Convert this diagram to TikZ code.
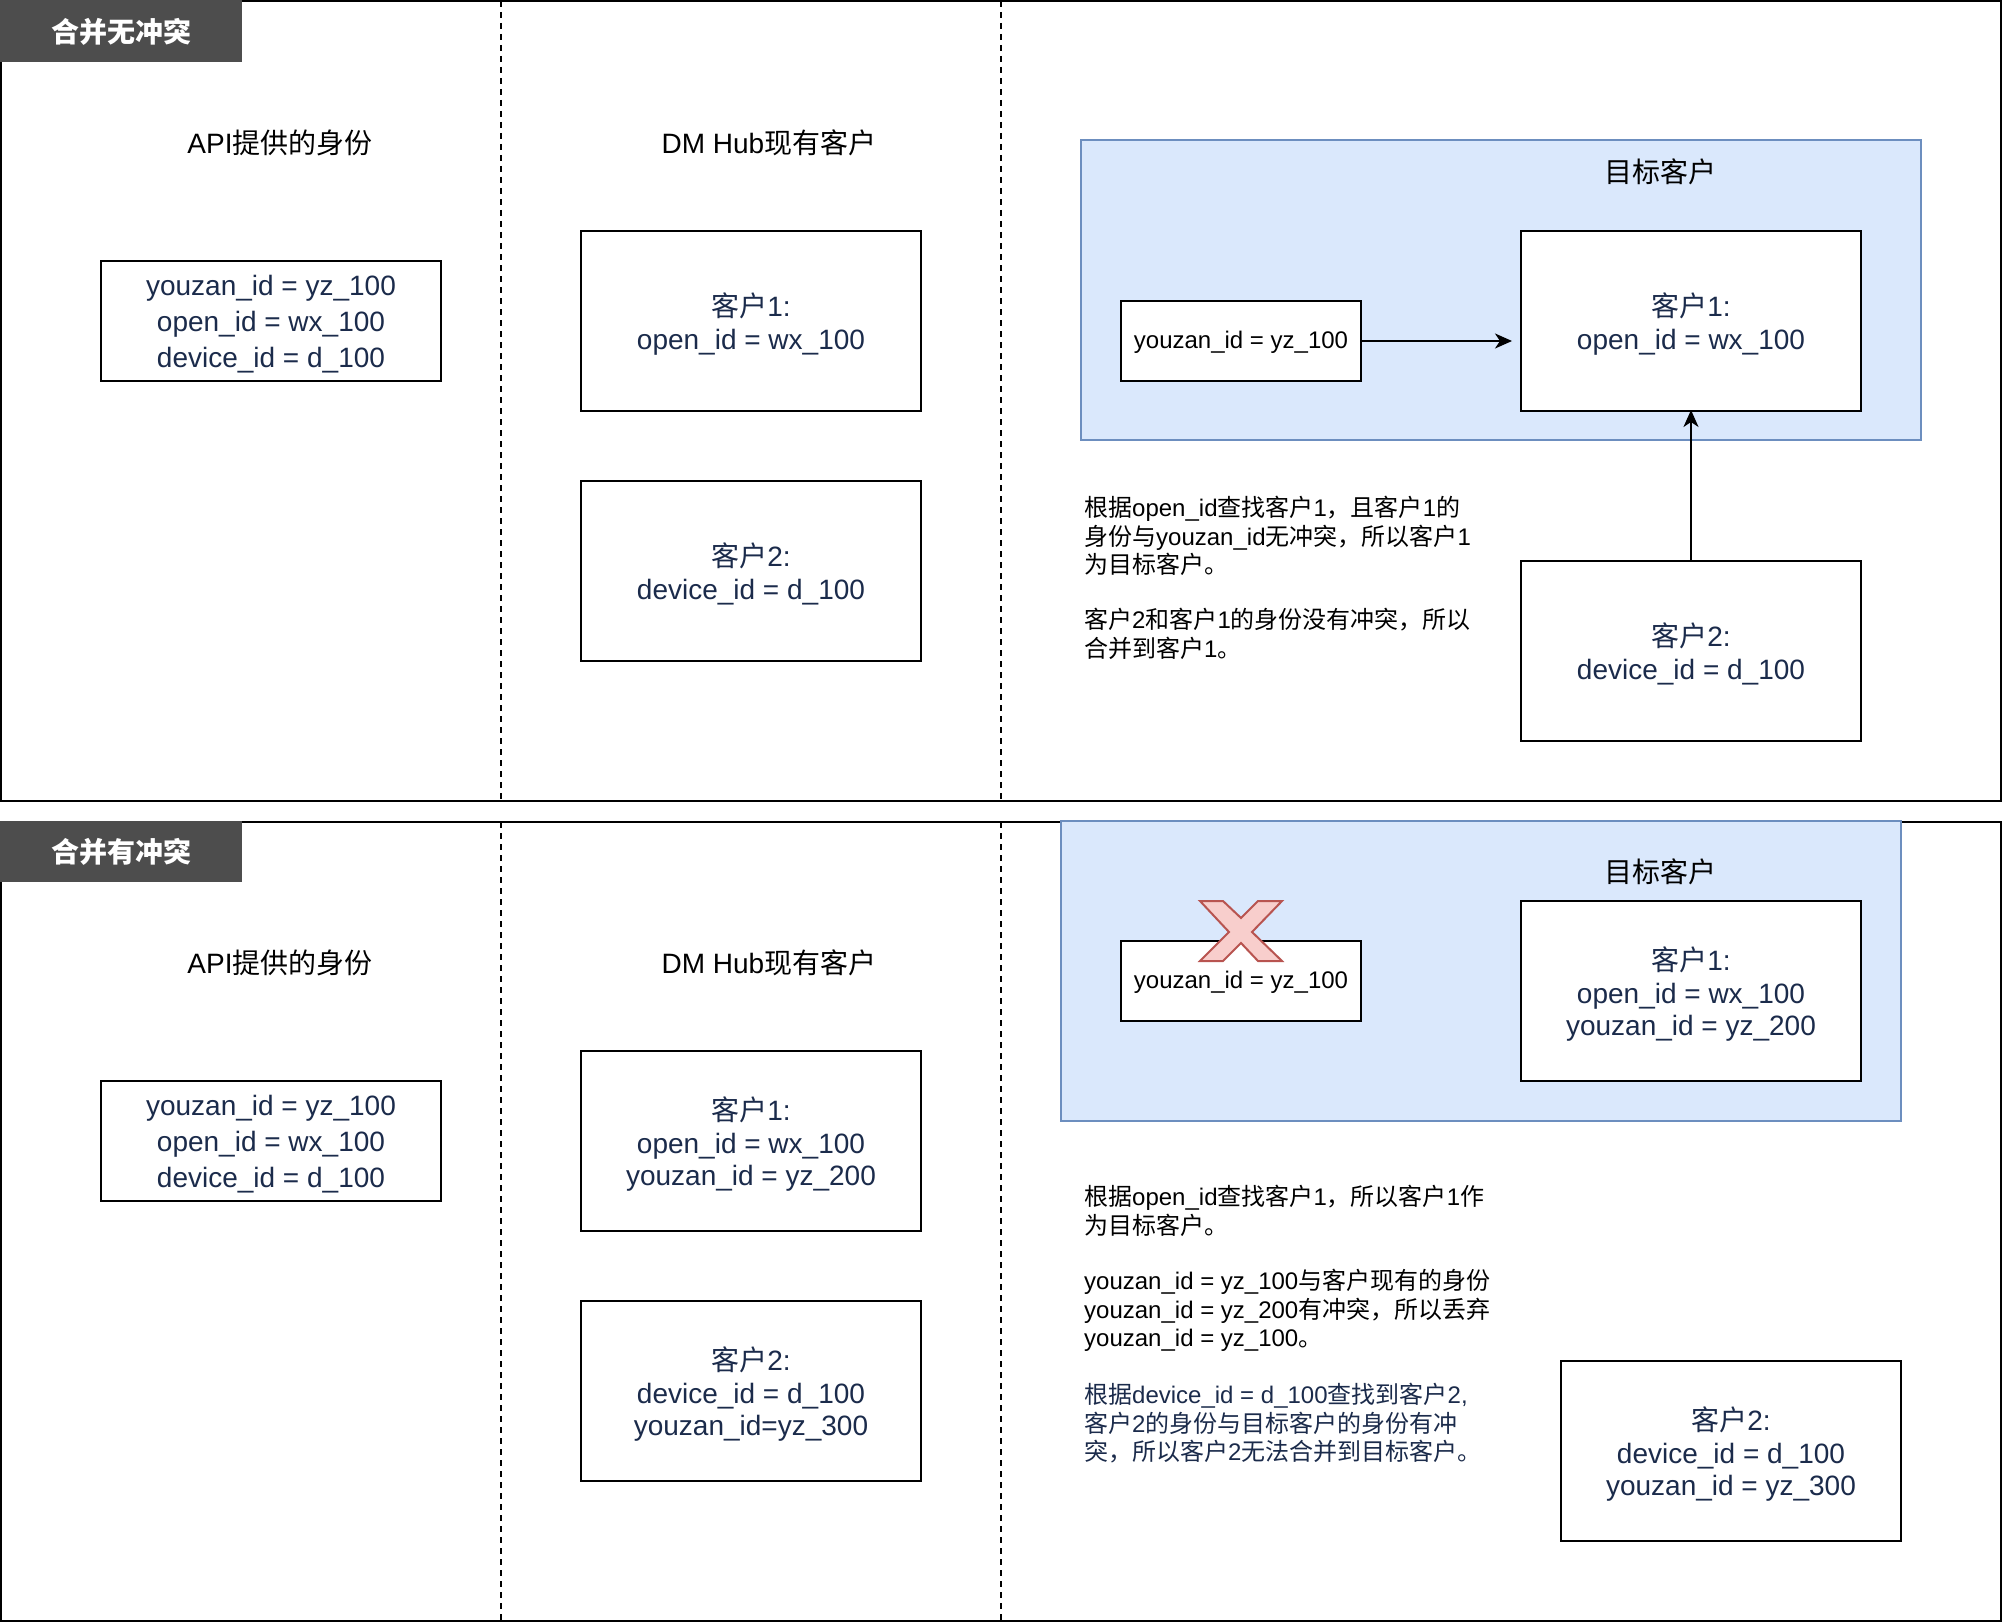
\documentclass[tikz,border=0pt]{standalone}
\usepackage{fontspec}
\setmainfont{Liberation Sans}
\newfontfamily\cjk{Noto Sans CJK SC}
\usetikzlibrary{arrows.meta}
\definecolor{navy}{HTML}{1B2B4B}
\definecolor{tabgray}{HTML}{4D4D4D}
\definecolor{bfill}{HTML}{DAE8FC}
\definecolor{bline}{HTML}{6C8EBF}
\definecolor{xfill}{HTML}{F8CECC}
\definecolor{xline}{HTML}{B85450}
% automatic switch to the CJK font for CJK characters
\XeTeXinterchartokenstate=1
\newXeTeXintercharclass\CJKcls
\newcount\cjkcc
\cjkcc="3000 \loop \XeTeXcharclass\cjkcc=\CJKcls \advance\cjkcc by 1 \ifnum\cjkcc<"3040 \repeat
\cjkcc="4E00 \loop \XeTeXcharclass\cjkcc=\CJKcls \advance\cjkcc by 1 \ifnum\cjkcc<"A000 \repeat
\cjkcc="FF00 \loop \XeTeXcharclass\cjkcc=\CJKcls \advance\cjkcc by 1 \ifnum\cjkcc<"FFF0 \repeat
\XeTeXinterchartoks 0 \CJKcls = {\begingroup\cjk}
\XeTeXinterchartoks 4095 \CJKcls = {\begingroup\cjk}
\XeTeXinterchartoks \CJKcls 0 = {\endgroup}
\XeTeXinterchartoks \CJKcls 4095 = {\endgroup}
% struts fixing the vertical placement of the box texts
\newcommand\myTopS{\rule{0pt}{34pt}}
\newcommand\myTopA{\rule{0pt}{31.5pt}}
\newcommand\myTopY{\rule{0pt}{20.5pt}}
\newcommand\myBotS{\rule[-10pt]{0pt}{10pt}}
\tikzset{
  panel/.style={draw=black, line width=2pt},
  divider/.style={draw=black, line width=2pt, dash pattern=on 6pt off 5pt},
  tab/.style={fill=tabgray, draw=none},
  tabtext/.style={text=white, inner sep=0pt, font=\fontsize{28}{34}\selectfont\bfseries},
  label/.style={text=black, inner sep=0pt, font=\fontsize{28}{34}\selectfont},
  idbox/.style={draw=black, line width=2pt, fill=white, minimum width=340pt, minimum height=180pt, inner sep=0pt, align=center, text=navy, font=\fontsize{28}{32.5}\selectfont},
  apibox/.style={idbox, minimum height=120pt, font=\fontsize{28}{36}\selectfont},
  smallbox/.style={draw=black, line width=2pt, fill=white, minimum width=240pt, minimum height=80pt, inner sep=0pt, text=black, font=\fontsize{24}{29}\selectfont},
  target/.style={draw=bline, fill=bfill, line width=2pt, minimum width=840pt, minimum height=300pt, inner sep=0pt},
  note/.style={anchor=north west, inner sep=0pt, align=left, text=black, font=\fontsize{24}{28.5}\selectfont},
  arr/.style={-{Stealth[length=17pt,width=15pt,inset=5pt]}, line width=2pt},
  cross/.style={fill=xfill, draw=xline, line width=2pt, line join=miter}
}
\begin{document}
\begin{tikzpicture}[x=1pt, y=-1pt]
\useasboundingbox (0,0) rectangle (2002,1624);
\fill[white] (0,0) rectangle (2002,1624);

% ---------------- top panel ----------------
\draw[panel] (1,1) rectangle (2001,801);
\draw[divider] (501,1) -- (501,801);
\draw[divider] (1001,1) -- (1001,801);
\fill[tab] (0,0) rectangle (242,62);
\node[tabtext] (t1) at (121,32) {合并无冲突};

\node[label] (api1) at (280,143) {API提供的身份};
\node[label] (dm1) at (769,143) {DM Hub现有客户};

\node[apibox] (a1) at (271,321) {\myTopA youzan\_id = yz\_100\\open\_id = wx\_100\\device\_id = d\_100\myBotS};
\node[idbox] (m11) at (751,321) {\myTopS 客户1:\\open\_id = wx\_100\myBotS};
\node[idbox] (m12) at (751,571) {\myTopS 客户2:\\device\_id = d\_100\myBotS};

\node[target] (g1) at (1501,290) {};
\node[label] (g1l) at (1660,172) {目标客户};
\node[smallbox] (y1) at (1241,341) {\myTopY youzan\_id = yz\_100};
\node[idbox] (r11) at (1691,321) {\myTopS 客户1:\\open\_id = wx\_100\myBotS};
\node[idbox] (r12) at (1691,651) {\myTopS 客户2:\\device\_id = d\_100\myBotS};
\draw[arr, shorten >=8pt] (y1.east) -- (y1.east -| r11.west);
\draw[arr, shorten >=-2pt] (r12.north) -- (r11.south);

\node[note] (n11) at (1084,496) {根据open\_id查找客户1，且客户1的\\身份与youzan\_id无冲突，所以客户1\\为目标客户。};
\node[note] (n12) at (1084,608) {客户2和客户1的身份没有冲突，所以\\合并到客户1。};

% ---------------- bottom panel ----------------
\draw[panel] (1,822) rectangle (2001,1621);
\draw[divider] (501,822) -- (501,1621);
\draw[divider] (1001,822) -- (1001,1621);
\fill[tab] (0,821) rectangle (242,882);
\node[tabtext] (t2) at (121,852) {合并有冲突};

\node[label] (api2) at (280,963) {API提供的身份};
\node[label] (dm2) at (769,963) {DM Hub现有客户};

\node[apibox] (a2) at (271,1141) {\myTopA youzan\_id = yz\_100\\open\_id = wx\_100\\device\_id = d\_100\myBotS};
\node[idbox] (m21) at (751,1141) {\myTopS 客户1:\\open\_id = wx\_100\\youzan\_id = yz\_200\myBotS};
\node[idbox] (m22) at (751,1391) {\myTopS 客户2:\\device\_id = d\_100\\youzan\_id=yz\_300\myBotS};

\node[target] (g2) at (1481,971) {};
\node[label] (g2l) at (1660,872) {目标客户};
\node[smallbox] (y2) at (1241,981) {\myTopY youzan\_id = yz\_100};
\draw[cross] (1200,901) -- (1223,901) -- (1241,918) -- (1258,901) -- (1282,901)
  -- (1252,932) -- (1282,961) -- (1258,961) -- (1241,943) -- (1223,961)
  -- (1200,961) -- (1229,932) -- cycle;
\node[idbox] (r21) at (1691,991) {\myTopS 客户1:\\open\_id = wx\_100\\youzan\_id = yz\_200\myBotS};
\node[idbox] (r22) at (1731,1451) {\myTopS 客户2:\\device\_id = d\_100\\youzan\_id = yz\_300\myBotS};

\node[note] (n21) at (1084,1185) {根据open\_id查找客户1，所以客户1作\\为目标客户。};
\node[note] (n22) at (1084,1269) {youzan\_id = yz\_100与客户现有的身份\\youzan\_id = yz\_200有冲突，所以丢弃\\youzan\_id = yz\_100。};
\node[note, text=navy] (n23) at (1084,1383) {根据device\_id = d\_100查找到客户2,\\客户2的身份与目标客户的身份有冲\\突，所以客户2无法合并到目标客户。};
\end{tikzpicture}
\end{document}
